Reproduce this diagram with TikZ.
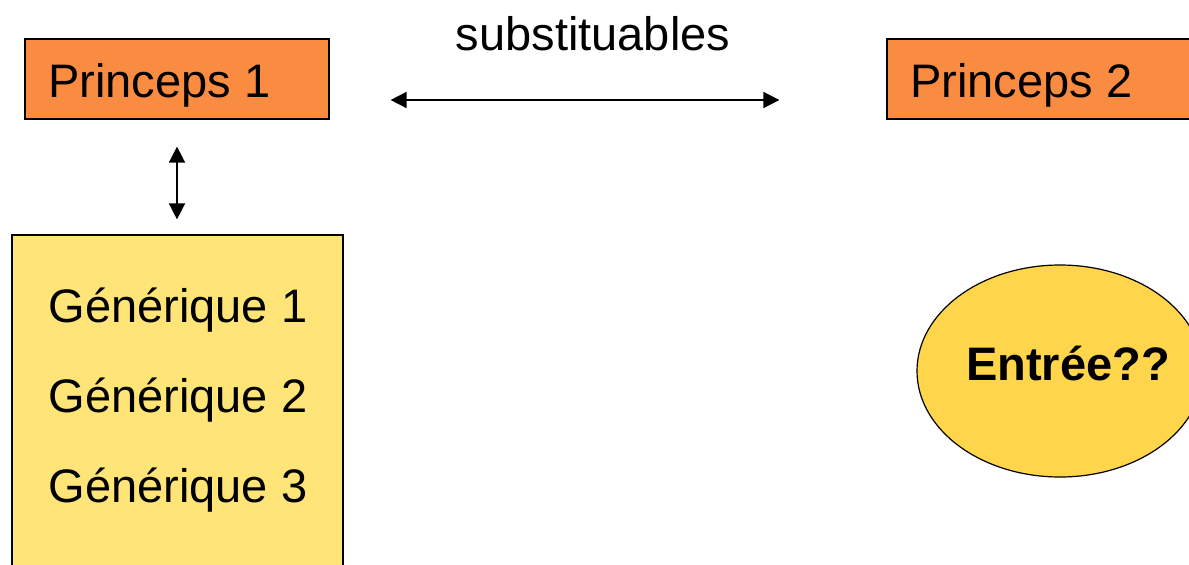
\documentclass[tikz,border=0pt]{standalone}
\usepackage{fontspec}
\setmainfont{Liberation Sans}
\usetikzlibrary{arrows.meta,shapes.geometric}
\definecolor{princepsfill}{RGB}{250,140,65}
\definecolor{generiquefill}{RGB}{255,228,120}
\definecolor{entreefill}{RGB}{255,214,75}
\tikzset{
  princeps/.style={draw, fill=princepsfill, line width=0.6pt, minimum width=152pt, minimum height=40pt},
  generique/.style={draw, fill=generiquefill, line width=0.6pt, minimum width=165.5pt, minimum height=182.5pt},
  entree/.style={draw, ellipse, fill=entreefill, line width=0.6pt, minimum width=143pt, minimum height=106pt},
  txt/.style={font=\fontsize{23.5}{28}\selectfont, inner sep=0pt, anchor=base},
  lien/.style={{Triangle[length=8pt,width=8pt]}-{Triangle[length=8pt,width=8pt]}, line width=0.8pt}
}
\begin{document}
\begin{tikzpicture}[x=0.5pt,y=-0.5pt]
  \useasboundingbox (0,0) rectangle (1189,564);
  \clip (0,0) rectangle (1189,564);
  % boxes
  \node[princeps] (p1) at (177,79) {};
  \node[princeps] (p2) at (1039,79) {};
  \node[generique] (gen) at (177.5,417.5) {};
  \node[entree] (ell) at (1060,371) {};
  % texts
  \node[txt, anchor=base west] (t1) at (48,97) {Princeps 1};
  \node[txt, anchor=base west] (t2) at (910,97) {Princeps 2};
  \node[txt] (sub) at (593,50) {substituables};
  \node[txt] (g1) at (178,322) {Générique 1};
  \node[txt] (g2) at (178,412) {Générique 2};
  \node[txt] (g3) at (178,502) {Générique 3};
  \node[txt, font=\fontsize{23.5}{28}\selectfont\bfseries] (ent) at (1068,380) {Entrée??};
  % arrows
  \coordinate (a) at ([xshift=30.5pt,yshift=-10.5pt]p1.east);
  \coordinate (b) at ([xshift=-53.5pt,yshift=-10.5pt]p2.west);
  \draw[lien] (a) -- (b);
  \draw[lien, shorten <=13.5pt, shorten >=7.5pt] (p1.south) -- (gen.north -| p1.south);
\end{tikzpicture}
\end{document}
